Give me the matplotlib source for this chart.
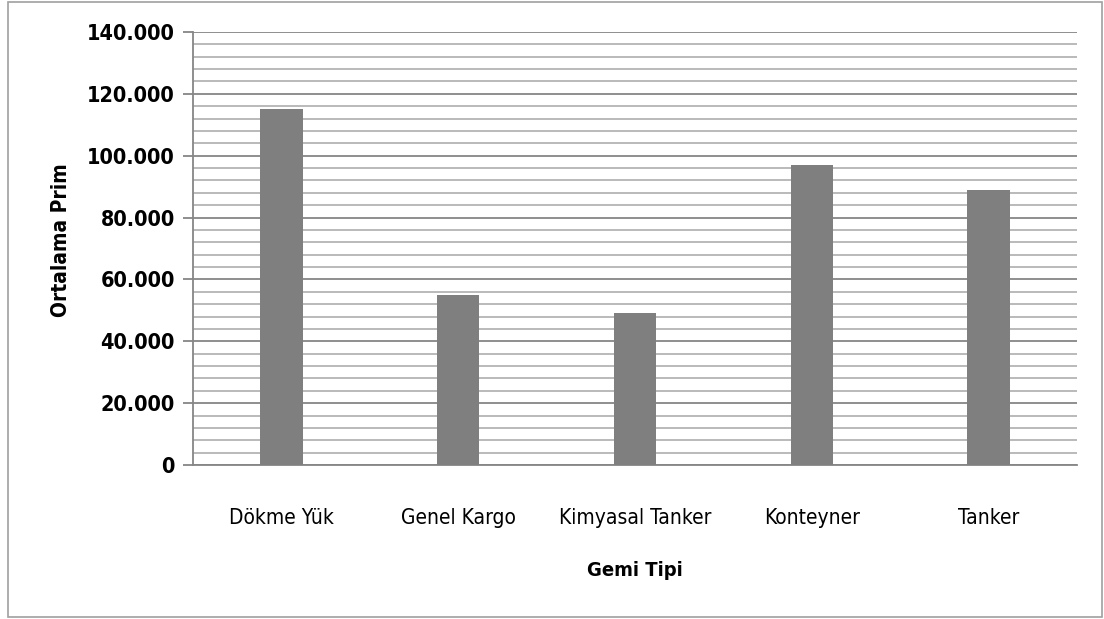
import numpy as np
import matplotlib
matplotlib.use("Agg")
import matplotlib.pyplot as plt
from matplotlib.ticker import MultipleLocator, FuncFormatter
from matplotlib.patches import Rectangle

categories = ["Dökme Yük", "Genel Kargo", "Kimyasal Tanker", "Konteyner", "Tanker"]
values = [115000, 55000, 49000, 97000, 89000]
y_ticks = [0, 20000, 40000, 60000, 80000, 100000, 120000, 140000]

plt.rcParams['font.family'] = ['DejaVu Sans']
plt.rcParams['font.stretch'] = 'condensed'

fig = plt.figure(figsize=(11.04, 6.19), dpi=100)
ax = fig.add_axes([193/1104, 1 - 465/619, (1077-193)/1104, (465-32)/619])

# outer chart frame
fig.patches.append(Rectangle((8/1104, 2/619), 1094/1104, 615/619, transform=fig.transFigure,
                             fill=False, edgecolor='#a0a0a0', linewidth=1.2))

x = np.arange(len(categories))
ax.bar(x, values, width=0.24, color='#7f7f7f', zorder=3)

ax.set_xlim(-0.5, len(categories) - 0.5)
ax.set_ylim(0, 140000)
ax.set_yticks(y_ticks)
ax.yaxis.set_minor_locator(MultipleLocator(4000))
ax.yaxis.set_major_formatter(FuncFormatter(lambda v, p: "0" if v == 0 else f"{v:,.0f}".replace(",", ".")))
ax.grid(which='major', axis='y', color='#868686', linewidth=1.3, zorder=0)
ax.grid(which='minor', axis='y', color='#b4b4b4', linewidth=1.3, zorder=0)

for side in ['top', 'right']:
    ax.spines[side].set_visible(False)
ax.spines['left'].set_color('#868686')
ax.spines['left'].set_linewidth(1.3)
ax.spines['bottom'].set_color('#868686')
ax.spines['bottom'].set_linewidth(1.3)

ax.tick_params(axis='y', which='major', length=7, color='#868686', width=1.3, labelsize=15.5, pad=6)
ax.tick_params(axis='y', which='minor', length=0)
ax.tick_params(axis='x', length=0, labelsize=15, pad=31)
ax.set_xticks(x)
ax.set_xticklabels(categories)
for lbl in ax.get_yticklabels():
    lbl.set_fontweight('bold')
for lbl in ax.get_xticklabels():
    lbl.set_fontweight('medium')

ax.set_xlabel("Gemi Tipi", fontsize=14.5, fontweight='bold', labelpad=24)
ax.set_ylabel("Ortalama Prim", fontsize=15, fontweight='bold')
ax.yaxis.set_label_coords(-0.138, 0.52)

fig.savefig("out.png", dpi=100)
